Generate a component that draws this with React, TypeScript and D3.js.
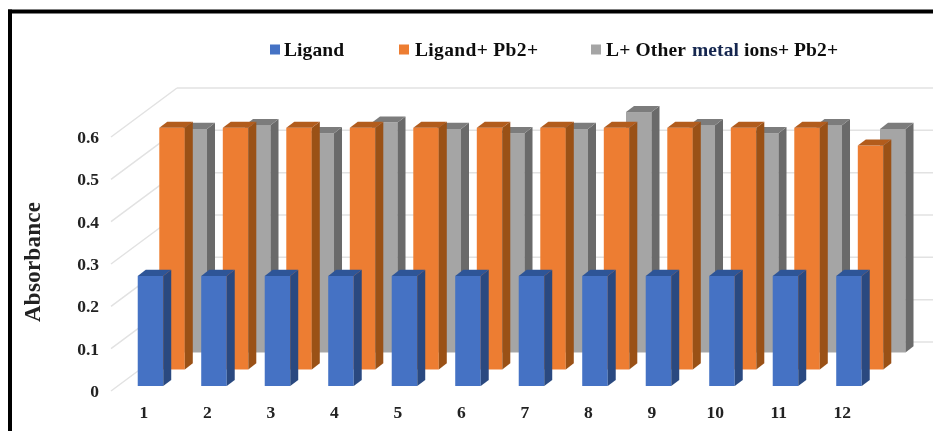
import React from "react";
import * as d3 from "d3";

const categories = ["1", "2", "3", "4", "5", "6", "7", "8", "9", "10", "11", "12"];
const yTicks = [0, 0.1, 0.2, 0.3, 0.4, 0.5, 0.6];
const ligand = [0.26, 0.26, 0.26, 0.26, 0.26, 0.26, 0.26, 0.26, 0.26, 0.26, 0.26, 0.26];
const ligandPb = [0.571, 0.571, 0.571, 0.571, 0.571, 0.571, 0.571, 0.571, 0.571, 0.571, 0.571, 0.529];
const otherMetals = [0.528, 0.537, 0.518, 0.543, 0.528, 0.518, 0.528, 0.568, 0.537, 0.518, 0.537, 0.528];

const W = 933;
const H = 431;
const serif = "'Liberation Serif', serif";

const x = d3.scalePoint<string>().domain(categories).range([131.2, 829.7]);
const y = d3.scaleLinear().domain([0, 0.6]).range([391, 137]);
const dx = d3.scaleLinear().domain([0, 1]).range([0, 64]);
const dy = d3.scaleLinear().domain([0, 1]).range([0, 49]);

const BAR_W = 25.5;
const BAR_D = 0.125;

const series = [
  { name: "L+ Other metal ions+ Pb2+", values: otherMetals, depth: 0.786, front: "#a5a5a5", side: "#6b6b6b", top: "#7c7c7c" },
  { name: "Ligand+ Pb2+", values: ligandPb, depth: 0.439, front: "#ed7d31", side: "#9a5119", top: "#b25c1f" },
  { name: "Ligand", values: ligand, depth: 0.102, front: "#4472c4", side: "#2b4a80", top: "#2f5597" },
];

const pts = (p: number[][]) => p.map((q) => q.join(",")).join(" ");

function Bar({ cat, v, s }: { cat: string; v: number; s: (typeof series)[number] }) {
  const x0 = (x(cat) as number) + dx(s.depth);
  const x1 = x0 + BAR_W;
  const yb = y(0) - dy(s.depth);
  const yt = yb - (y(0) - y(v));
  const ox = dx(BAR_D);
  const oy = dy(BAR_D);
  return (
    <g>
      <rect x={x0} y={yt} width={BAR_W} height={yb - yt} fill={s.front} />
      <polygon points={pts([[x1, yt], [x1 + ox, yt - oy], [x1 + ox, yb - oy], [x1, yb]])} fill={s.side} />
      <polygon points={pts([[x0, yt], [x0 + ox, yt - oy], [x1 + ox, yt - oy], [x1, yt]])} fill={s.top} />
    </g>
  );
}

const legendSwatches = [
  { x: 270, color: "#4472c4" },
  { x: 399, color: "#ed7d31" },
  { x: 591, color: "#a5a5a5" },
];

const legendTexts = [
  { text: "Ligand", x: 284, len: 60, fill: "#111" },
  { text: "Ligand+ Pb2+", x: 415, len: 123, fill: "#111" },
  { text: "L+ Other", x: 606, len: 80, fill: "#111" },
  { text: "metal", x: 692, len: 47, fill: "#14264f" },
  { text: "ions+ Pb2+", x: 744, len: 94, fill: "#111" },
];

export default function App() {
  return (
    <svg width={W} height={H} viewBox={`0 0 ${W} ${H}`} style={{ position: "fixed", left: 0, top: 0, background: "#fff" }}>
      <defs>
        <filter id="soft" x="0" y="0" width="100%" height="100%">
          <feGaussianBlur stdDeviation="0.5" />
        </filter>
      </defs>
      <g filter="url(#soft)">
        {yTicks.map((t) => (
          <g key={t} stroke="#e2e2e2" strokeWidth={1.5} fill="none">
            <line x1={111} y1={y(t)} x2={177} y2={y(t) - dy(1)} />
            <line x1={177} y1={y(t) - dy(1)} x2={W} y2={y(t) - dy(1)} />
          </g>
        ))}
        {series.map((s) => (
          <g key={s.name}>
            {categories.map((c, i) => (
              <Bar key={c} cat={c} v={s.values[i]} s={s} />
            ))}
          </g>
        ))}
        <g fontFamily={serif} fontWeight="bold" fill="#222" fontSize={17.5}>
          {yTicks.map((t) => (
            <text key={t} x={99} y={y(t) + 6} textAnchor="end">
              {String(t)}
            </text>
          ))}
          {categories.map((c) => (
            <text key={c} x={(x(c) as number) + 12.6} y={418} textAnchor="middle">
              {c}
            </text>
          ))}
        </g>
        <text
          transform="translate(39.5,322) rotate(-90)"
          fontFamily={serif}
          fontWeight="bold"
          fontSize={23}
          fill="#222"
          textLength={120}
          lengthAdjust="spacing"
        >
          Absorbance
        </text>
        {legendSwatches.map((l) => (
          <rect key={l.x} x={l.x} y={44.5} width={10} height={10} fill={l.color} />
        ))}
        <g fontFamily={serif} fontWeight="bold" fontSize={19.5}>
          {legendTexts.map((l) => (
            <text key={l.text} x={l.x} y={55.5} fill={l.fill} textLength={l.len} lengthAdjust="spacing">
              {l.text}
            </text>
          ))}
        </g>
        <rect x={8} y={9.5} width={W - 8} height={4} fill="#000" />
        <rect x={8} y={9.5} width={4} height={H} fill="#000" />
      </g>
    </svg>
  );
}
